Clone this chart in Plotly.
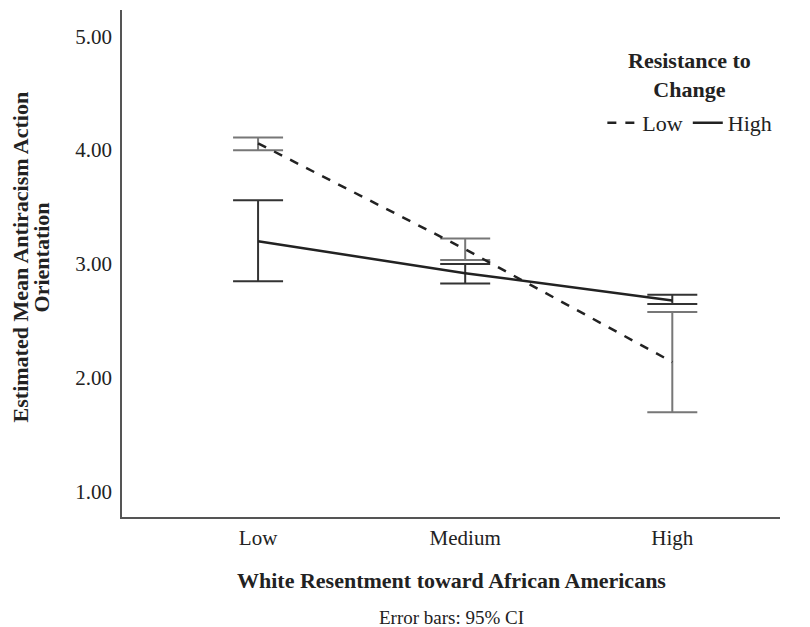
import plotly.graph_objects as go

categories = ["Low", "Medium", "High"]
low_rc_mean = [4.06, 3.13, 2.14]
low_rc_upper = [4.11, 3.225, 2.58]
low_rc_lower = [4.00, 3.035, 1.70]
high_rc_mean = [3.20, 2.92, 2.68]
high_rc_upper = [3.56, 3.00, 2.73]
high_rc_lower = [2.85, 2.83, 2.65]
y_ticks = [1, 2, 3, 4, 5]
y_tick_labels = ["1.00", "2.00", "3.00", "4.00", "5.00"]

FONT = "Liberation Serif"
TXT = "#222222"

fig = go.Figure()
fig.add_trace(go.Scatter(
    x=categories, y=low_rc_mean, mode="lines", name="Low",
    line=dict(color=TXT, width=2.5, dash="dash"),
    error_y=dict(type="data", symmetric=False,
                 array=[u - m for u, m in zip(low_rc_upper, low_rc_mean)],
                 arrayminus=[m - l for m, l in zip(low_rc_mean, low_rc_lower)],
                 color="#777777", thickness=2, width=25),
))
fig.add_trace(go.Scatter(
    x=categories, y=high_rc_mean, mode="lines", name="High",
    line=dict(color=TXT, width=2.5),
    error_y=dict(type="data", symmetric=False,
                 array=[u - m for u, m in zip(high_rc_upper, high_rc_mean)],
                 arrayminus=[m - l for m, l in zip(high_rc_mean, high_rc_lower)],
                 color="#333333", thickness=2, width=25),
))

fig.update_layout(
    width=802, height=619,
    margin=dict(l=114, r=30, t=2, b=110, autoexpand=False),
    paper_bgcolor="white", plot_bgcolor="white",
    font=dict(family=FONT, color=TXT, size=21),
    xaxis=dict(range=[-0.657, 2.52], showline=True, linecolor="#555555", linewidth=1.5,
               showgrid=False, ticks="", zeroline=False, automargin=False,
               tickfont=dict(size=21), ticklabelstandoff=1),
    yaxis=dict(range=[0.78, 5.23], showline=True, linecolor="#555555", linewidth=1.5,
               showgrid=False, ticks="", zeroline=False, automargin=False,
               tickvals=y_ticks, ticktext=y_tick_labels, tickfont=dict(size=21),
               ticklabelstandoff=4),
    legend=dict(orientation="h", x=0.863, y=0.777, xanchor="center", yanchor="middle",
                bgcolor="rgba(0,0,0,0)", font=dict(size=22)),
    showlegend=True,
)
fig.add_annotation(text="<b>Resistance to<br>Change</b>", align="center",
                   xref="paper", yref="paper", x=0.862, y=0.872,
                   xanchor="center", yanchor="middle", showarrow=False,
                   font=dict(size=22, family=FONT, color=TXT))
fig.add_annotation(text="<b>White Resentment toward African Americans</b>",
                   xref="paper", yref="paper", x=0.5, y=0, yshift=-63,
                   xanchor="center", yanchor="middle", showarrow=False,
                   font=dict(size=22, family=FONT, color=TXT))
fig.add_annotation(text="<b>Estimated Mean Antiracism Action</b>",
                   xref="paper", yref="paper", x=0, y=0.512, xshift=-102,
                   xanchor="center", yanchor="middle", textangle=-90, showarrow=False,
                   font=dict(size=22, family=FONT, color=TXT))
fig.add_annotation(text="<b>Orientation</b>",
                   xref="paper", yref="paper", x=0, y=0.512, xshift=-81,
                   xanchor="center", yanchor="middle", textangle=-90, showarrow=False,
                   font=dict(size=22, family=FONT, color=TXT))
fig.add_annotation(text="Error bars: 95% CI", xref="paper", yref="paper",
                   x=0.5, y=0, yshift=-100, xanchor="center", yanchor="middle",
                   showarrow=False, font=dict(size=19, family=FONT, color=TXT))

fig.write_html("out.html")
